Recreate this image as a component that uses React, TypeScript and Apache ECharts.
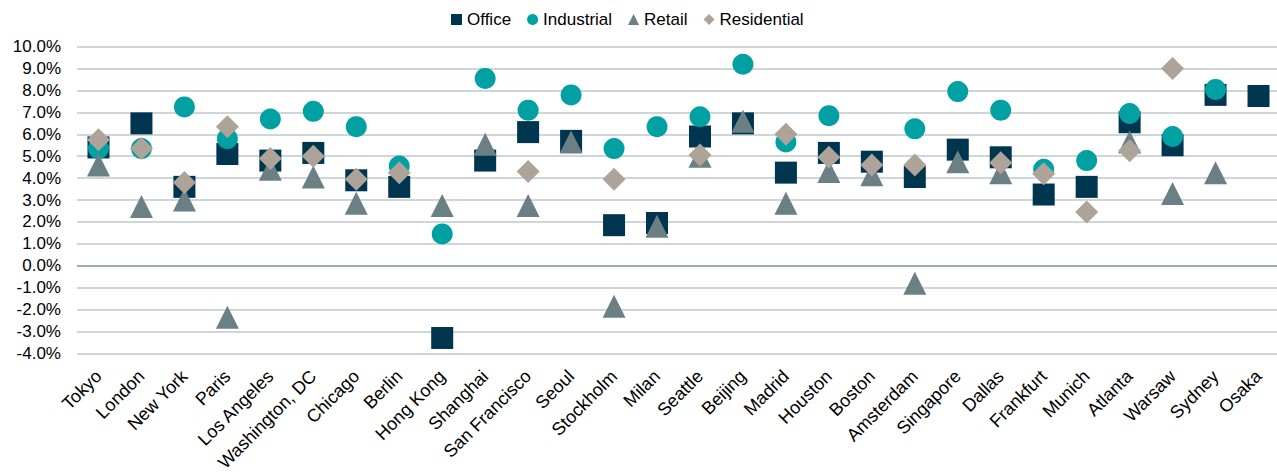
import React, { useEffect, useRef } from "react";
import * as echarts from "echarts";

const cities = [
  "Tokyo", "London", "New York", "Paris", "Los Angeles", "Washington, DC", "Chicago",
  "Berlin", "Hong Kong", "Shanghai", "San Francisco", "Seoul", "Stockholm", "Milan",
  "Seattle", "Beijing", "Madrid", "Houston", "Boston", "Amsterdam", "Singapore",
  "Dallas", "Frankfurt", "Munich", "Atlanta", "Warsaw", "Sydney", "Osaka",
];

const office = [5.4, 6.5, 3.6, 5.1, 4.8, 5.15, 3.9, 3.6, -3.3, 4.8, 6.1, 5.7, 1.85, 1.95,
  5.9, 6.5, 4.25, 5.15, 4.75, 4.05, 5.3, 4.95, 3.25, 3.6, 6.55, 5.5, 7.8, 7.75];
const industrial = [5.35, 5.35, 7.25, 5.8, 6.7, 7.05, 6.35, 4.55, 1.45, 8.55, 7.1, 7.8, 5.35, 6.35,
  6.8, 9.2, 5.65, 6.85, null, 6.25, 7.95, 7.1, 4.4, 4.8, 6.95, 5.9, 8.05, null];
const retail = [4.6, 2.7, 3.0, -2.35, 4.4, 4.05, 2.85, null, 2.75, 5.55, 2.75, 5.65, -1.85, 1.8,
  5.0, 6.6, 2.85, 4.3, 4.15, -0.8, 4.75, 4.25, null, null, 5.65, 3.3, 4.25, null];
const residential = [5.75, 5.35, 3.8, 6.35, 4.9, 5.0, 3.95, 4.25, null, null, 4.3, null, 3.95, null,
  5.05, null, 6.0, 4.95, 4.6, 4.6, null, 4.7, 4.2, 2.45, 5.25, 9.0, null, null];

const seriesNames = ["Office", "Industrial", "Retail", "Residential"];
const seriesColors = ["#00354F", "#00A0A3", "#6B8085", "#ADA398"];
const seriesSymbols = ["rect", "circle", "triangle", "diamond"];
const seriesSizes = [22, 21, 23, 23];
const seriesData = [office, industrial, retail, residential];

const FONT = "Arial, 'Liberation Sans', sans-serif";

export default function App() {
  const ref = useRef<HTMLDivElement>(null);
  useEffect(() => {
    if (!ref.current) return;
    const chart = echarts.init(ref.current, undefined, { renderer: "svg" });
    const series: any[] = seriesNames.map((name, i) => ({
      name,
      type: "scatter",
      data: seriesData[i],
      symbol: seriesSymbols[i],
      symbolSize: seriesSizes[i],
      itemStyle: { color: seriesColors[i], opacity: 1 },
      z: 2 + i,
      ...(i === 0
        ? {
            markLine: {
              silent: true,
              symbol: "none",
              label: { show: false },
              lineStyle: { color: "#8A9DAE", width: 1.5, type: "solid" },
              data: [{ yAxis: 0 }],
            },
          }
        : {}),
    }));
    chart.setOption({
      animation: false,
      textStyle: { fontFamily: FONT },
      legend: {
        top: 6,
        left: 446,
        itemWidth: 11,
        itemHeight: 11,
        itemGap: 16,
        textStyle: { fontSize: 17, color: "#000", fontFamily: FONT },
        data: seriesNames,
      },
      grid: {
        left: 77,
        right: -3,
        top: 46.7,
        bottom: 118.7,
        containLabel: false,
        outerBoundsMode: "none",
      },
      xAxis: {
        type: "category",
        data: cities,
        axisLine: { show: false, onZero: false },
        axisTick: { show: false },
        splitLine: { show: false },
        axisLabel: {
          interval: 0,
          rotate: 45,
          fontSize: 18,
          color: "#000",
          margin: 20,
          fontFamily: FONT,
        },
      },
      yAxis: {
        type: "value",
        min: -4,
        max: 10,
        interval: 1,
        axisLine: { show: false },
        axisTick: { show: false },
        splitLine: { lineStyle: { color: "#BFC8CD", width: 1.5 } },
        axisLabel: {
          formatter: (v: number) => v.toFixed(1) + "%",
          fontSize: 17,
          color: "#000",
          margin: 16,
          fontFamily: FONT,
        },
      },
      series,
    });
    return () => chart.dispose();
  }, []);
  return (
    <div
      ref={ref}
      style={{ position: "fixed", left: 0, top: 0, width: 1277, height: 472, background: "#fff" }}
    />
  );
}
